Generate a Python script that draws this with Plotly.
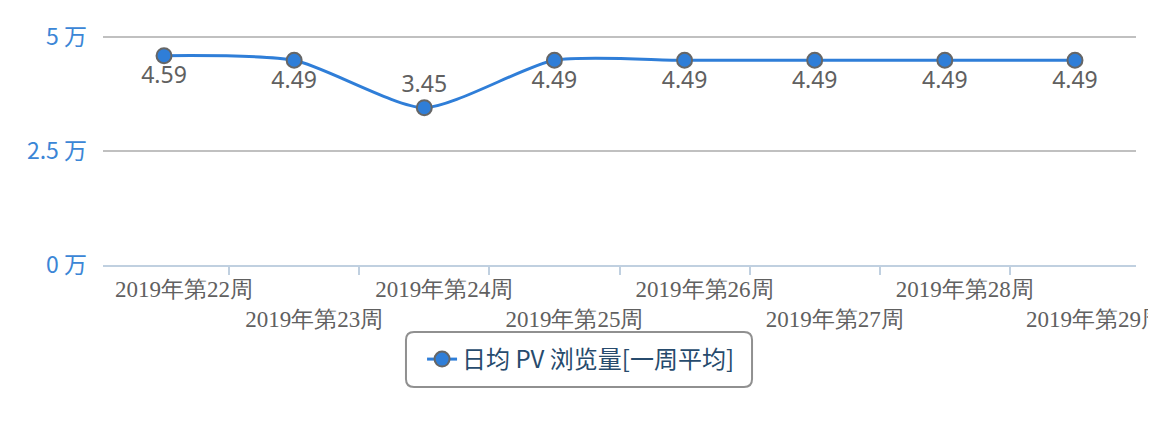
import plotly.graph_objects as go

# 周次与日均 PV（单位：万）
weeks = ['2019年第22周', '2019年第23周', '2019年第24周', '2019年第25周',
         '2019年第26周', '2019年第27周', '2019年第28周', '2019年第29周']
pv_avg = [4.59, 4.49, 3.45, 4.49, 4.49, 4.49, 4.49, 4.49]
y_ticks = [0, 2.5, 5]

# 标签错行显示（奇数位下移一行）
tick_text = [w if i % 2 == 0 else '<br>' + w for i, w in enumerate(weeks)]
label_pos = ['top center' if v < 4 else 'bottom center' for v in pv_avg]

fig = go.Figure()
fig.add_trace(go.Scatter(
    x=weeks,
    y=pv_avg,
    mode='lines+markers+text',
    name='日均 PV 浏览量[一周平均]',
    line=dict(color='#2f7ed8', width=3, shape='spline', smoothing=0.65),
    marker=dict(size=15, color='#2f7ed8', line=dict(color='#666666', width=2)),
    text=[f'{v:.2f}' for v in pv_avg],
    textposition=label_pos,
    textfont=dict(family='Noto Sans', size=23, color='#606060'),
    cliponaxis=False,
    hoverinfo='skip',
))

# 图例外框（圆角）
ph = 230
rx, ry = 8 / 1033, 8 / ph
x0, x1 = 0.2933, 0.6283
y1 = (257 - 324) / ph
y0 = (257 - 379) / ph
box = (f'M {x0 + rx},{y1} L {x1 - rx},{y1} Q {x1},{y1} {x1},{y1 - ry} '
       f'L {x1},{y0 + ry} Q {x1},{y0} {x1 - rx},{y0} '
       f'L {x0 + rx},{y0} Q {x0},{y0} {x0},{y0 + ry} '
       f'L {x0},{y1 - ry} Q {x0},{y1} {x0 + rx},{y1} Z')
fig.add_shape(type='path', path=box, xref='paper', yref='paper',
              line=dict(color='#909090', width=2), fillcolor='white', layer='below')

fig.update_layout(
    width=1156, height=424,
    margin=dict(l=95, r=28, t=27, b=167),
    paper_bgcolor='white', plot_bgcolor='rgba(0,0,0,0)',
    showlegend=True,
    legend=dict(
        x=0.4623, y=(257 - 351.5) / ph, xanchor='center', yanchor='middle',
        orientation='h', borderwidth=0, bgcolor='rgba(0,0,0,0)',
        font=dict(family='Noto Sans CJK SC', size=24, color='#274b6d'),
    ),
)

fig.update_xaxes(
    type='category', automargin=False,
    tickmode='array', tickvals=weeks, ticktext=tick_text,
    tickson='boundaries', tickangle=0,
    ticks='outside', ticklen=8, tickcolor='#C0D0E0', tickwidth=2,
    showline=True, linecolor='#C0D0E0', linewidth=2,
    showgrid=False, zeroline=False,
    ticklabelshift=20, ticklabelstandoff=2,
    tickfont=dict(family='Liberation Serif', size=23, color='#606060'),
)

fig.update_yaxes(
    range=[0, 5.044], automargin=False,
    tickmode='array', tickvals=y_ticks,
    ticktext=[f'{t:g} 万' for t in y_ticks],
    showgrid=True, gridcolor='#C0C0C0', gridwidth=1.5,
    zeroline=False, showline=False, ticks='',
    ticklabelstandoff=15,
    tickfont=dict(family='Noto Sans CJK SC', size=23, color='#3b86d6'),
)

fig.write_html('out.html')
